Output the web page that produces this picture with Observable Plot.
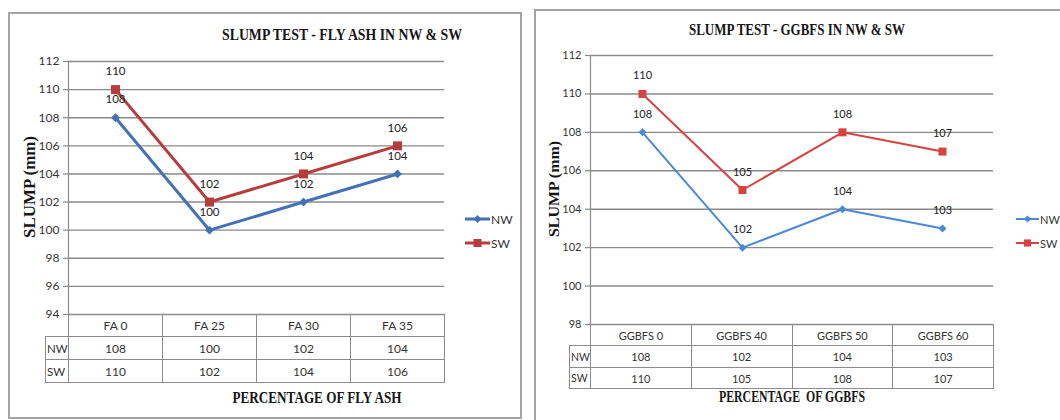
<!DOCTYPE html>
<html><head><meta charset="utf-8">
<script src="https://cdn.jsdelivr.net/npm/d3@7"></script>
<script src="https://cdn.jsdelivr.net/npm/@observablehq/plot@0.6"></script>
<style>
body{margin:0;background:#fff;}
#root{position:relative;width:1060px;height:420px;overflow:hidden;background:#fff;font-family:Lato,sans-serif;}
.panel{position:absolute;border:2px solid #a4a4a4;box-sizing:border-box;}
.abs{position:absolute;white-space:nowrap;}
.serif{font-family:"Liberation Serif","Times New Roman",serif;font-weight:bold;color:#151515;}
table.dt{position:absolute;border-collapse:collapse;table-layout:fixed;font-family:Lato,sans-serif;color:#333;}
table.dt td{border:1px solid #8c8c8c;text-align:center;padding:0;overflow:visible;white-space:nowrap;}
.leg{position:absolute;display:flex;align-items:center;font-family:Lato,sans-serif;color:#333;}
</style></head>
<body><div id="root"></div>
<script>
// ---------- data ----------
const seriesNames = ["NW", "SW"];

const faCategories = ["FA 0", "FA 25", "FA 30", "FA 35"];
const faNW = [108, 100, 102, 104];
const faSW = [110, 102, 104, 106];
const faTicks = [94, 96, 98, 100, 102, 104, 106, 108, 110, 112];
const faTitle = "SLUMP TEST - FLY ASH IN NW & SW";
const faXLabel = "PERCENTAGE OF FLY ASH";

const ggCategories = ["GGBFS 0", "GGBFS 40", "GGBFS 50", "GGBFS 60"];
const ggNW = [108, 102, 104, 103];
const ggSW = [110, 105, 108, 107];
const ggTicks = [98, 100, 102, 104, 106, 108, 110, 112];
const ggTitle = "SLUMP TEST - GGBFS IN NW & SW";
const ggXLabel = "PERCENTAGE  OF GGBFS";

const yLabel = "SLUMP (mm)";

// ---------- layout ----------
const charts = [
  {
    cats: faCategories, nw: faNW, sw: faSW, ticks: faTicks, title: faTitle, xlabel: faXLabel,
    colors: ["#4471b6", "#b63d3b"],
    border: {l: 8, t: 12, r: 522, b: 419},
    plot: {l: 68, r: 444, t: 61, b: 314},
    rows: [22, 23, 23], labelCol: 23,
    title_: {cx: 342, cy: 34, w: 240, fs: 17},
    xlab: {cx: 317, cy: 397, w: 169, fs: 17},
    ylab: {cx: 30, cy: 187, w: 102, fs: 16},
    legend: {x: 465, lw: 25, ys: [219, 243]},
    fs: 12, lfs: 11.5, tfs: 12, rowfs: 11.5, lineW: 3, sq: 9, dia: 10
  },
  {
    cats: ggCategories, nw: ggNW, sw: ggSW, ticks: ggTicks, title: ggTitle, xlabel: ggXLabel,
    colors: ["#4a89d8", "#d9433f"],
    border: {l: 534, t: 9, r: 1080, b: 440},
    plot: {l: 590, r: 993, t: 55, b: 324},
    rows: [21, 22, 21], labelCol: 21,
    title_: {cx: 797, cy: 30, w: 216, fs: 16},
    xlab: {cx: 792, cy: 397, w: 146, fs: 16},
    ylab: {cx: 554, cy: 189, w: 96, fs: 15},
    legend: {x: 1016, lw: 23, ys: [219, 243]},
    fs: 11, lfs: 11, tfs: 11, rowfs: 10.5, lineW: 2, sq: 8, dia: 9
  }
];

const root = document.getElementById("root");

function fitText(el, cx, cy, target, rotate) {
  el.style.left = cx + "px";
  el.style.top = cy + "px";
  root.appendChild(el);
  const w = el.getBoundingClientRect().width;
  const s = target / w;
  el.style.transform = `translate(-50%,-50%)${rotate ? " rotate(-90deg)" : ""} scaleX(${s})`;
}

for (const c of charts) {
  // panel border
  const p = document.createElement("div");
  p.className = "panel";
  Object.assign(p.style, {left: c.border.l + "px", top: c.border.t + "px",
    width: (c.border.r - c.border.l) + "px", height: (c.border.b - c.border.t) + "px"});
  root.appendChild(p);

  // title
  const t = document.createElement("div");
  t.className = "abs serif"; t.textContent = c.title; t.style.fontSize = c.title_.fs + "px";
  t.style.lineHeight = "1";
  fitText(t, c.title_.cx, c.title_.cy, c.title_.w);

  // data rows
  const data = [];
  c.cats.forEach((cat, i) => {
    data.push({cat, series: "NW", value: c.nw[i]});
    data.push({cat, series: "SW", value: c.sw[i]});
  });
  const nwRows = data.filter(d => d.series === "NW");
  const swRows = data.filter(d => d.series === "SW");

  const mL = 60, mR = 10, mT = 15, mB = 6;
  const W = (c.plot.r - c.plot.l) + mL + mR;
  const H = (c.plot.b - c.plot.t) + mT + mB;
  const sqR = c.sq / Math.sqrt(Math.PI);
  const diaR = Math.sqrt((c.dia * c.dia / 2) / Math.PI);

  const svg = Plot.plot({
    width: W, height: H, marginLeft: mL, marginRight: mR, marginTop: mT, marginBottom: mB,
    style: {fontFamily: "Lato, sans-serif", fontSize: c.fs + "px", color: "#333", background: "transparent", overflow: "visible"},
    x: {type: "point", domain: c.cats, padding: 0.5, axis: null},
    y: {domain: [c.ticks[0], c.ticks[c.ticks.length - 1]], axis: null},
    color: {domain: seriesNames, range: c.colors},
    marks: [
      Plot.gridY(c.ticks, {stroke: "#8a8a8a", strokeOpacity: 1, strokeWidth: 1.4}),
      Plot.axisY(c.ticks, {tickSize: 5, tickPadding: 4, label: null, fontSize: c.tfs}),
      Plot.frame({anchor: "left", stroke: "#8a8a8a", strokeWidth: 1.2}),
      Plot.line(data, {x: "cat", y: "value", z: "series", stroke: "series", strokeWidth: c.lineW}),
      Plot.dot(nwRows, {x: "cat", y: "value", symbol: "diamond2", r: diaR, fill: "series", stroke: "none"}),
      Plot.dot(swRows, {x: "cat", y: "value", symbol: "square", r: sqR, fill: "series", stroke: "none"}),
      Plot.text(data, {x: "cat", y: "value", text: d => String(d.value), dy: -18, fill: "#222", fontSize: c.lfs})
    ]
  });
  // grey tick marks like the original
  d3.select(svg).selectAll("g[aria-label='y-axis tick']").attr("stroke", "#8a8a8a").attr("stroke-width", 1.2);
  svg.style.position = "absolute";
  svg.style.left = (c.plot.l - mL) + "px";
  svg.style.top = (c.plot.t - mT) + "px";
  root.appendChild(svg);

  // data table
  const colW = (c.plot.r - c.plot.l) / c.cats.length;
  const tbl = document.createElement("table");
  tbl.className = "dt";
  tbl.style.left = (c.plot.l - c.labelCol) + "px";
  tbl.style.top = c.plot.b + "px";
  tbl.style.width = (c.plot.r - c.plot.l + c.labelCol) + "px";
  tbl.style.fontSize = c.tfs + "px";
  const cg = document.createElement("colgroup");
  [c.labelCol, ...c.cats.map(() => colW)].forEach(w => {
    const col = document.createElement("col"); col.style.width = w + "px"; cg.appendChild(col);
  });
  tbl.appendChild(cg);
  const rowsContent = [["", ...c.cats], ["NW", ...c.nw], ["SW", ...c.sw]];
  rowsContent.forEach((r, ri) => {
    const tr = document.createElement("tr");
    tr.style.height = c.rows[ri] + "px";
    r.forEach((v, ci) => {
      const td = document.createElement("td");
      td.textContent = v;
      if (ri === 0 && ci === 0) { td.style.borderTop = "none"; td.style.borderLeft = "none"; }
      if (ri > 0 && ci === 0) { td.style.textAlign = "left"; td.style.paddingLeft = "1px"; td.style.fontSize = c.rowfs + "px"; }
      tr.appendChild(td);
    });
    tbl.appendChild(tr);
  });
  root.appendChild(tbl);

  // x label
  const xl = document.createElement("div");
  xl.className = "abs serif"; xl.textContent = c.xlabel; xl.style.fontSize = c.xlab.fs + "px";
  xl.style.lineHeight = "1"; xl.style.whiteSpace = "pre";
  fitText(xl, c.xlab.cx, c.xlab.cy, c.xlab.w);

  // y label
  const yl = document.createElement("div");
  yl.className = "abs serif"; yl.textContent = yLabel; yl.style.fontSize = c.ylab.fs + "px";
  yl.style.lineHeight = "1";
  fitText(yl, c.ylab.cx, c.ylab.cy, c.ylab.w, true);

  // legend
  seriesNames.forEach((name, i) => {
    const lg = document.createElement("div");
    lg.className = "leg";
    lg.style.left = c.legend.x + "px";
    lg.style.top = (c.legend.ys[i] - 7) + "px";
    lg.style.height = "14px";
    lg.style.fontSize = c.tfs + "px";
    const s = d3.create("svg").attr("width", c.legend.lw).attr("height", 14).style("display", "block");
    s.append("line").attr("x1", 0).attr("x2", c.legend.lw).attr("y1", 7).attr("y2", 7)
      .attr("stroke", c.colors[i]).attr("stroke-width", c.lineW);
    const sym = i === 0 ? d3.symbolDiamond2 : d3.symbolSquare;
    const size = i === 0 ? (c.dia * c.dia / 2) * 0.8 : (c.sq * c.sq) * 0.8;
    s.append("path").attr("d", d3.symbol(sym, size)()).attr("transform", `translate(${c.legend.lw / 2},7)`)
      .attr("fill", c.colors[i]);
    lg.appendChild(s.node());
    const tx = document.createElement("span");
    tx.textContent = name; tx.style.marginLeft = "1px";
    lg.appendChild(tx);
    root.appendChild(lg);
  });
}
</script>
</body></html>
